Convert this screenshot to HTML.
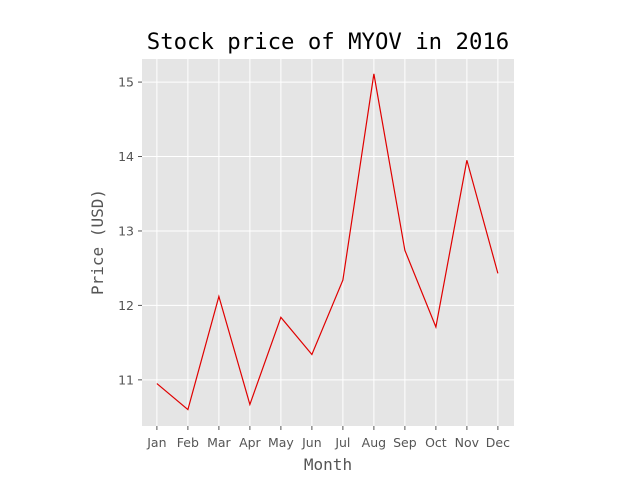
<!DOCTYPE html>
<html><head><meta charset="utf-8"><style>
body{margin:0;background:#fff;}
svg{display:block;}
</style></head><body>
<svg width="640" height="480" xmlns="http://www.w3.org/2000/svg">
<g id="plot"></g>
</svg>
<script>
const months=["Jan","Feb","Mar","Apr","May","Jun","Jul","Aug","Sep","Oct","Nov","Dec"];
const prices=[10.95,10.60,12.12,10.67,11.84,11.34,12.34,15.11,12.74,11.71,13.95,12.43];
const yTicks=[11,12,13,14,15];
const X0=142,X1=514,Y0=59,Y1=426;
const xMin=-0.48,xMax=11.52,yMin=10.38,yMax=15.31;
const sx=i=>X0+(i-xMin)/(xMax-xMin)*(X1-X0);
const sy=v=>Y1-(v-yMin)/(yMax-yMin)*(Y1-Y0);
const NS="http://www.w3.org/2000/svg";
const g=document.getElementById('plot');
function mk(t,a,txt){const e=document.createElementNS(NS,t);for(const k in a)e.setAttribute(k,a[k]);if(txt!==undefined)e.textContent=txt;g.appendChild(e);return e;}
let bg=mk('rect',{x:X0,y:Y0,width:X1-X0,height:Y1-Y0,fill:'#e5e5e5'});


months.forEach((m,i)=>{
  let l=mk('line',{x1:sx(i),x2:sx(i),y1:Y0,y2:Y1,stroke:'#fff','stroke-width':1});
  
  
  let tk=mk('line',{x1:sx(i),x2:sx(i),y1:Y1,y2:Y1+4,stroke:'#555','stroke-width':1});
  
  
  let t=mk('text',{x:sx(i),y:Y1+21,'text-anchor':'middle','font-family':'DejaVu Sans, sans-serif','font-size':12.5,fill:'#555'},m);
  
  
});
yTicks.forEach(v=>{
  let l=mk('line',{x1:X0,x2:X1,y1:sy(v),y2:sy(v),stroke:'#fff','stroke-width':1});
  
  
  let tk=mk('line',{x1:X0-4,x2:X0,y1:sy(v),y2:sy(v),stroke:'#555','stroke-width':1});
  
  
  let t=mk('text',{x:X0-8,y:sy(v)+4.5,'text-anchor':'end','font-family':'DejaVu Sans, sans-serif','font-size':12.5,fill:'#555'},String(v));
  
  
});
let line=mk('polyline',{points:prices.map((p,i)=>sx(i)+','+sy(p)).join(' '),fill:'none',stroke:'#e00000','stroke-width':1.2});


let tt=mk('text',{x:328,y:49,'text-anchor':'middle','font-family':'DejaVu Sans Mono, monospace','font-size':22.3,fill:'#000'},'Stock price of MYOV in 2016');


let xt=mk('text',{x:328,y:470,'text-anchor':'middle','font-family':'DejaVu Sans Mono, monospace','font-size':16,fill:'#555'},'Month');


let yt=mk('text',{x:103,y:242,'text-anchor':'middle','font-family':'DejaVu Sans Mono, monospace','font-size':16,fill:'#555',transform:'rotate(-90 103 242)'},'Price (USD)');


</script>
</body></html>
